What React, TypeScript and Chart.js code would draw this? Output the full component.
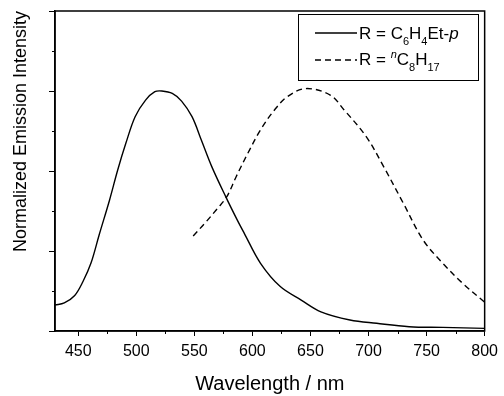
import React, { useEffect, useRef } from "react";
import { Chart, registerables } from "chart.js";

Chart.register(...registerables);

// Wavelength (nm) / normalized intensity
const solidX = [430, 438, 447, 454, 461, 468, 477, 484, 491, 499, 508, 516, 522, 531, 539, 548, 556, 565, 577, 587, 593, 607, 624, 642, 659, 684, 707, 735, 764, 800];
const solidY = [0.108, 0.117, 0.148, 0.205, 0.283, 0.4, 0.546, 0.671, 0.782, 0.893, 0.962, 0.997, 1.0, 0.99, 0.958, 0.893, 0.796, 0.685, 0.56, 0.462, 0.407, 0.282, 0.185, 0.129, 0.08, 0.046, 0.032, 0.018, 0.015, 0.011];

const dashX = [549, 559, 570, 578, 586, 596, 607, 619, 630, 646, 667, 679, 698, 713, 730, 747, 764, 781, 800];
const dashY = [0.396, 0.449, 0.511, 0.56, 0.643, 0.74, 0.838, 0.921, 0.976, 1.01, 0.983, 0.921, 0.81, 0.685, 0.532, 0.379, 0.282, 0.199, 0.12];

const xTicks = [450, 500, 550, 600, 650, 700, 750, 800];
const xMinorTicks = [475, 525, 575, 625, 675, 725, 775];
const yTicks = [0, 1 / 3, 2 / 3, 1, 4 / 3];
const yMinorTicks = [1 / 6, 1 / 2, 5 / 6, 7 / 6];

const FONT = "'Liberation Sans', Arial, sans-serif";

type Run = { t: string; k?: "sub" | "sup"; i?: boolean };

function drawRuns(ctx: CanvasRenderingContext2D, x: number, y: number, runs: Run[]) {
  let cx = x;
  for (const r of runs) {
    const size = r.k ? 11 : 17;
    ctx.font = `${r.i ? "italic " : ""}${size}px ${FONT}`;
    const dy = r.k === "sub" ? 6 : r.k === "sup" ? -7 : 0;
    ctx.fillText(r.t, cx, y + dy);
    cx += ctx.measureText(r.t).width;
  }
}

const framePlugin = {
  id: "frame",
  afterDraw(chart: any) {
    const { ctx, chartArea } = chart;
    const { left, right, top, bottom } = chartArea;
    ctx.save();
    ctx.strokeStyle = "#000";
    ctx.lineWidth = 1.5;
    ctx.strokeRect(left, top, right - left, bottom - top);
    // minor ticks
    ctx.lineWidth = 1;
    const xs = chart.scales.x;
    const ys = chart.scales.y;
    ctx.beginPath();
    for (const v of xMinorTicks) {
      const px = Math.round(xs.getPixelForValue(v)) + 0.5;
      ctx.moveTo(px, bottom);
      ctx.lineTo(px, bottom + 3);
    }
    for (const v of yMinorTicks) {
      const py = Math.round(ys.getPixelForValue(v)) + 0.5;
      ctx.moveTo(left, py);
      ctx.lineTo(left - 3, py);
    }
    ctx.stroke();

    // legend
    const bx = 298, by = 14, bw = 180, bh = 66;
    ctx.fillStyle = "#fff";
    ctx.fillRect(bx, by, bw, bh);
    ctx.lineWidth = 1;
    ctx.strokeRect(bx + 0.5, by + 0.5, bw, bh);
    ctx.lineWidth = 1.3;
    ctx.beginPath();
    ctx.moveTo(315, 33);
    ctx.lineTo(357, 33);
    ctx.stroke();
    ctx.setLineDash([6, 4]);
    ctx.beginPath();
    ctx.moveTo(315, 60);
    ctx.lineTo(357, 60);
    ctx.stroke();
    ctx.setLineDash([]);
    ctx.fillStyle = "#000";
    ctx.textBaseline = "alphabetic";
    ctx.textAlign = "left";
    drawRuns(ctx, 359, 38.5, [
      { t: "R = C" }, { t: "6", k: "sub" }, { t: "H" }, { t: "4", k: "sub" }, { t: "Et-" }, { t: "p", i: true },
    ]);
    drawRuns(ctx, 359, 65, [
      { t: "R = " }, { t: "n", k: "sup", i: true }, { t: "C" }, { t: "8", k: "sub" }, { t: "H" }, { t: "17", k: "sub" },
    ]);
    ctx.restore();
  },
};

export default function App() {
  const ref = useRef<HTMLCanvasElement | null>(null);
  useEffect(() => {
    if (!ref.current) return;
    const chart = new Chart(ref.current, {
      type: "line",
      data: {
        datasets: [
          {
            label: "R = C6H4Et-p",
            data: solidX.map((x, i) => ({ x, y: solidY[i] })),
            borderColor: "#000",
            borderWidth: 1.4,
            pointRadius: 0,
            tension: 0.35,
            fill: false,
          },
          {
            label: "R = nC8H17",
            data: dashX.map((x, i) => ({ x, y: dashY[i] })),
            borderColor: "#000",
            borderWidth: 1.4,
            borderDash: [6, 4],
            pointRadius: 0,
            tension: 0.35,
            fill: false,
          },
        ],
      },
      options: {
        animation: false,
        responsive: true,
        maintainAspectRatio: false,
        layout: { padding: { top: 11, right: 16, left: 0, bottom: 0 } },
        plugins: { legend: { display: false }, tooltip: { enabled: false } },
        scales: {
          x: {
            type: "linear",
            min: 430,
            max: 800,
            afterBuildTicks: (s: any) => {
              s.ticks = xTicks.map((v) => ({ value: v }));
            },
            afterFit: (s: any) => {
              s.height = 65;
            },
            ticks: {
              color: "#000",
              font: { family: FONT, size: 16 },
              maxRotation: 0,
              autoSkip: false,
              padding: 6,
            },
            grid: { drawOnChartArea: false, drawTicks: true, tickLength: 5, color: "#000", tickColor: "#000", tickWidth: 1 },
            border: { display: true, color: "#000", width: 1.5 },
            title: {
              display: true,
              text: "Wavelength / nm",
              color: "#000",
              font: { family: FONT, size: 20 },
              padding: { top: 0, bottom: 0 },
            },
          },
          y: {
            type: "linear",
            min: 0,
            max: 4 / 3,
            afterBuildTicks: (s: any) => {
              s.ticks = yTicks.map((v) => ({ value: v }));
            },
            afterFit: (s: any) => {
              s.width = 55;
            },
            ticks: { display: false },
            grid: { drawOnChartArea: false, drawTicks: true, tickLength: 6, color: "#000", tickColor: "#000", tickWidth: 1 },
            border: { display: true, color: "#000", width: 1.5 },
            title: {
              display: true,
              text: "Normalized Emission Intensity",
              align: "end",
              color: "#000",
              font: { family: FONT, size: 18 },
              padding: { top: 10, bottom: 0 },
            },
          },
        },
      },
      plugins: [framePlugin],
    } as any);
    return () => chart.destroy();
  }, []);
  return (
    <div style={{ position: "absolute", left: 0, top: 0, width: 504, height: 396, background: "#fff" }}>
      <canvas ref={ref} />
    </div>
  );
}
